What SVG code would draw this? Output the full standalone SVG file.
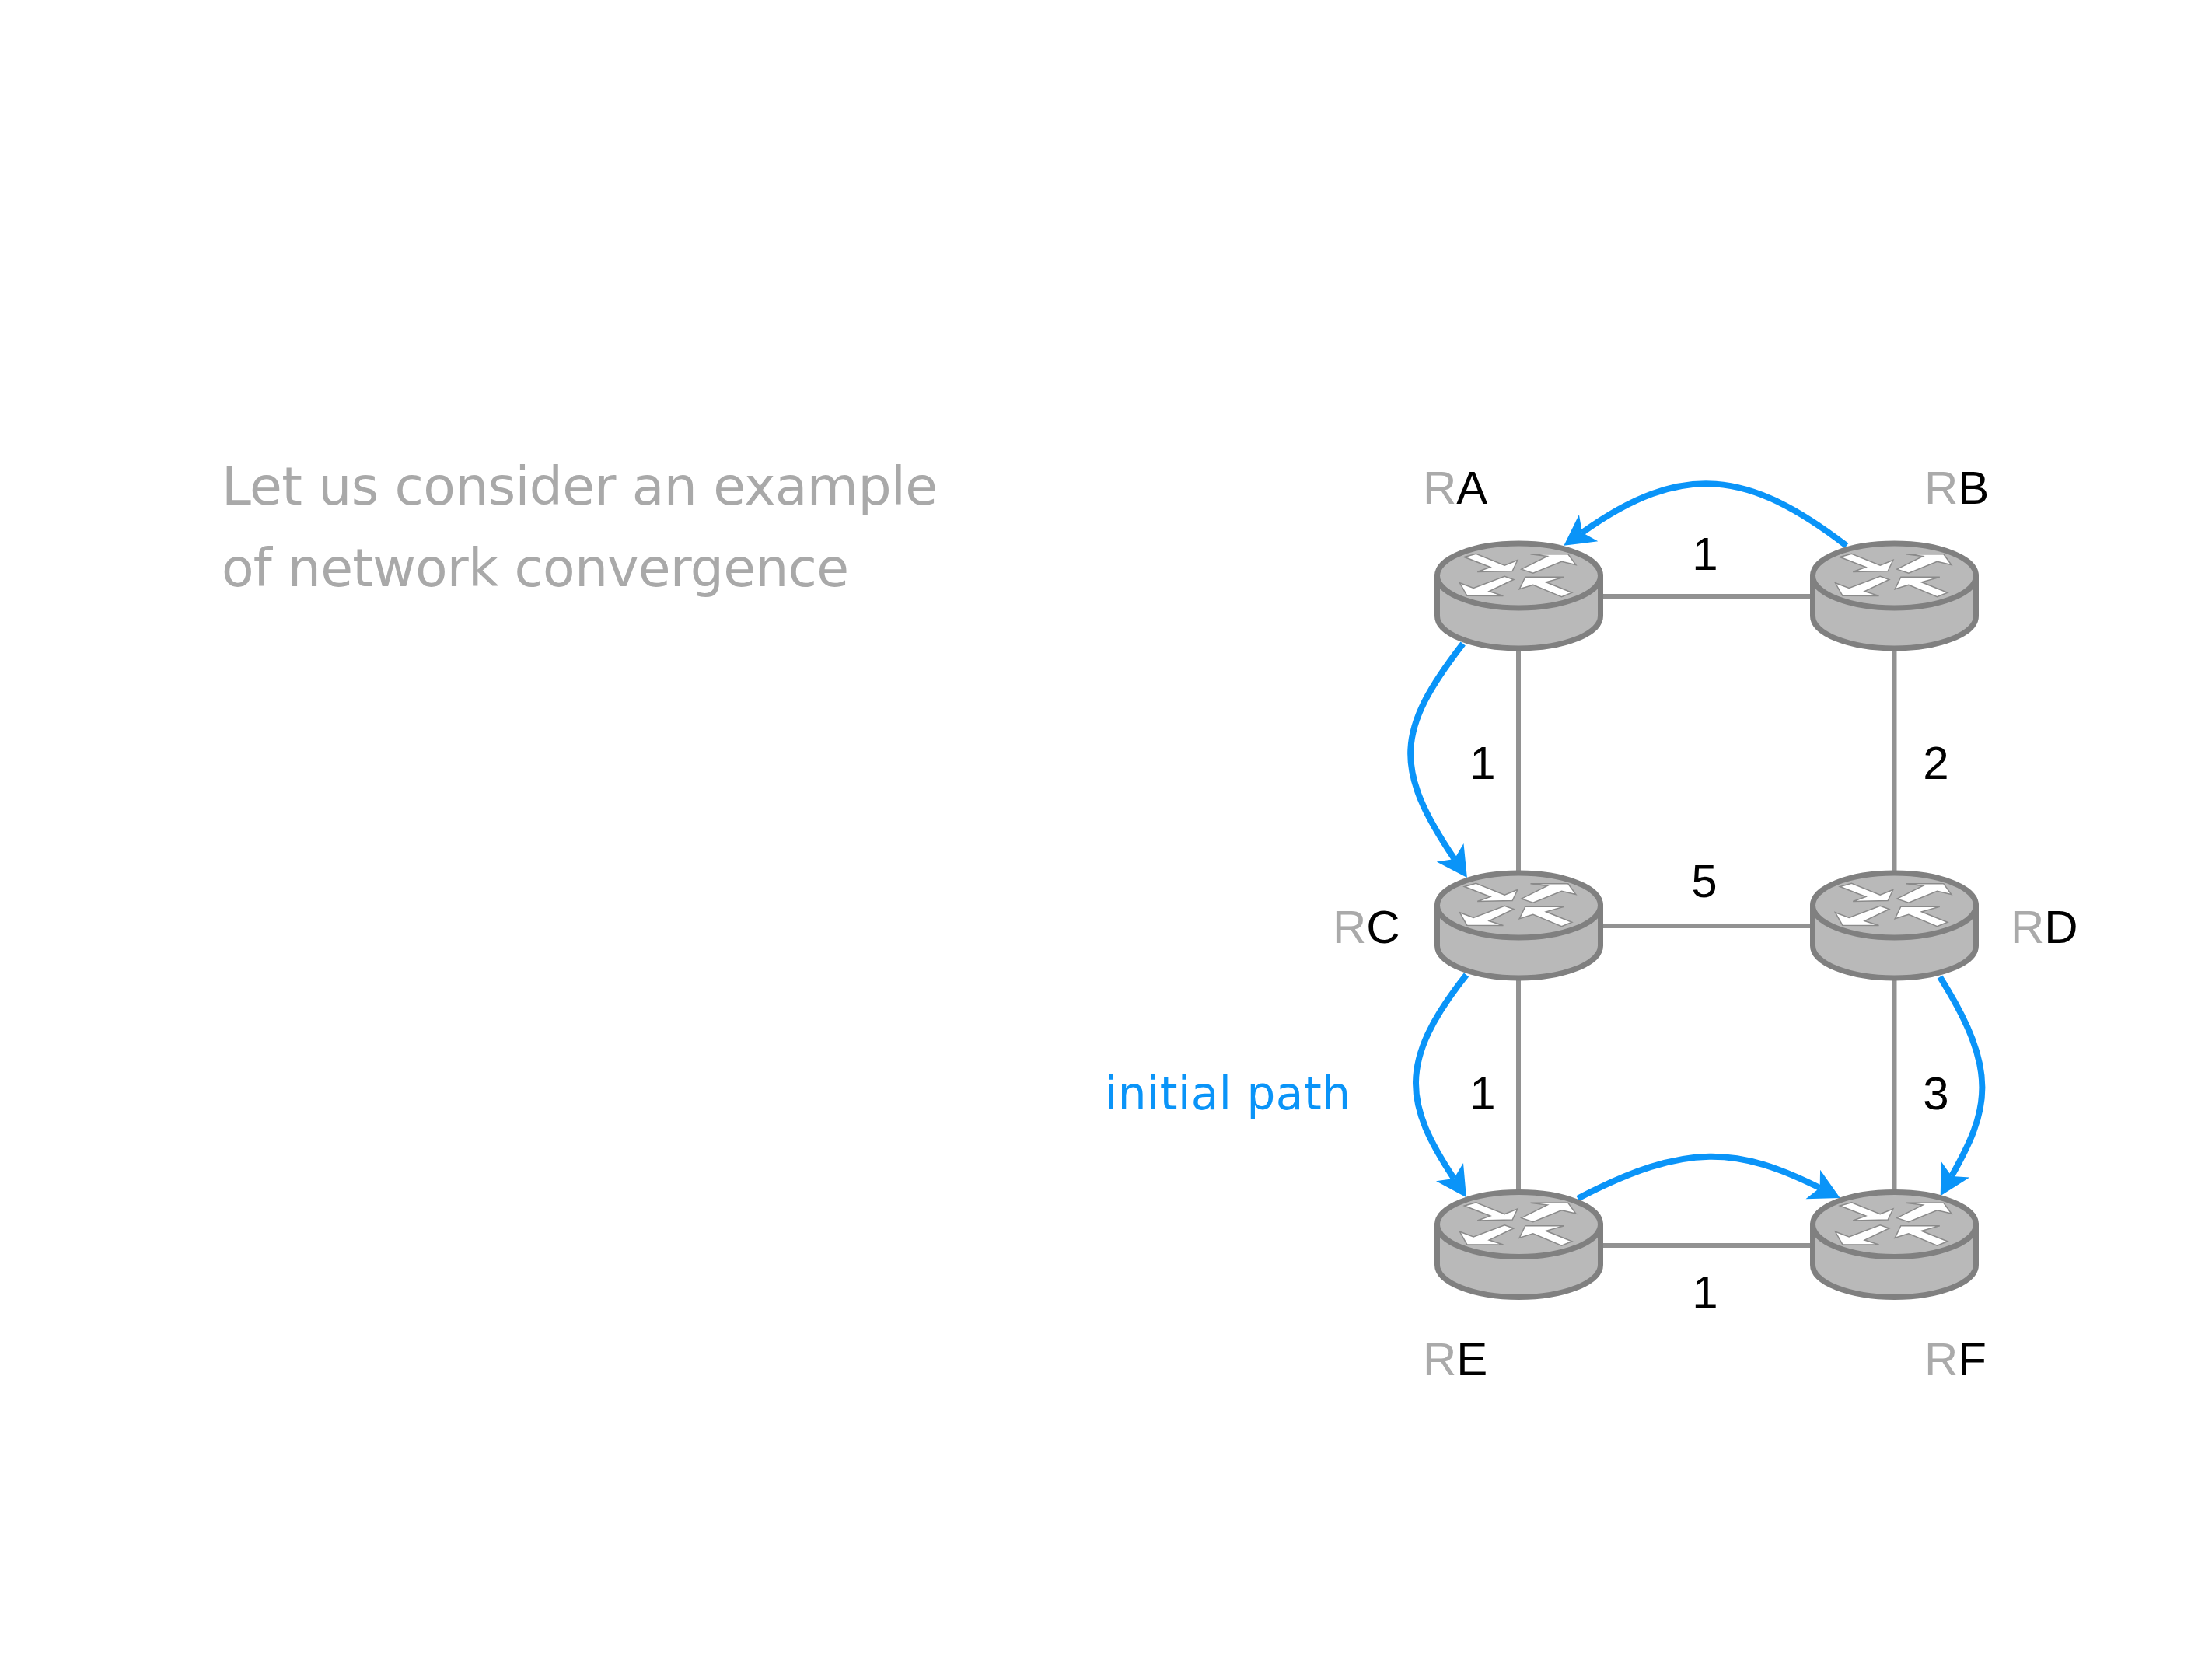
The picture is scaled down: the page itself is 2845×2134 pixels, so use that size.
<svg xmlns="http://www.w3.org/2000/svg" width="2845" height="2134" viewBox="0 0 2845 2134">
  <style>
    .heading { font-family: "DejaVu Sans", sans-serif; font-size: 68px; fill: #a9a9a9; }
    .path-label { font-family: "DejaVu Sans", sans-serif; font-size: 58px; fill: #0a94f8; }
    .name { font-family: "Liberation Sans", Arial, sans-serif; font-size: 60px; fill: #000; }
    .name .prefix { fill: #aaaaaa; }
    .cost { font-family: "Liberation Sans", Arial, sans-serif; font-size: 60px; fill: #000; text-anchor: middle; }
    .link { stroke: #929292; stroke-width: 6; fill: none; }
    .route { stroke: #0a94f8; stroke-width: 8; fill: none; marker-end: url(#head); }
    .body { fill: #b9b9b9; stroke: #808080; stroke-width: 7; stroke-linejoin: round; }
    .glyph { fill: #fff; stroke: #8a8a8a; stroke-width: 1.5; stroke-linejoin: miter; }
  </style>
  <defs>
    <marker id="head" markerUnits="userSpaceOnUse" markerWidth="40" markerHeight="44" refX="10" refY="22" orient="auto">
      <path d="M0,1 L39,22 L0,43 L10,22 Z" fill="#0a94f8"/>
    </marker>
    <!-- Router drawn around the centre of its top face -->
    <g id="router">
      <path class="body" d="M-105,0 V52 A105,41.5 0 0 0 105,52 V0 Z"/>
      <ellipse class="body" cx="0" cy="0" rx="105" ry="41.5"/>
      <polygon class="glyph" points="-70,-24 -55,-28.3 -18.3,-13.3 -1.7,-20 -8.3,-6 -53.3,-5 -36.7,-11"/>
      <polygon class="glyph" points="3.3,-8.3 36.7,-25 15,-27.7 63.3,-27.7 73.3,-14 55,-18.3 18.3,-3.3"/>
      <polygon class="glyph" points="-6.7,5 -18.3,0.7 -58.3,16 -76,9.3 -66.7,25.7 -20,26 -38.3,20"/>
      <polygon class="glyph" points="68.3,21.7 55,27.3 18.3,11.7 0.7,17.3 8.3,1.7 58.3,1.7 35,8.3"/>
    </g>
  </defs>
  <rect width="2845" height="2134" fill="#ffffff"/>

  <text class="heading" x="285" y="649" textLength="921" lengthAdjust="spacing">Let us consider an example</text>
  <text class="heading" x="285" y="754" textLength="807" lengthAdjust="spacing">of network convergence</text>
  <text class="path-label" x="1421" y="1427" textLength="316" lengthAdjust="spacing">initial path</text>

  <g id="connectors">
    <line class="link" x1="1953" y1="767" x2="2436" y2="767"/>
    <line class="link" x1="1953" y1="1191" x2="2436" y2="1191"/>
    <line class="link" x1="1953" y1="1602" x2="2436" y2="1602"/>
    <line class="link" x1="1953" y1="740" x2="1953" y2="1575"/>
    <line class="link" x1="2436.5" y1="740" x2="2436.5" y2="1575"/>
    <path class="route" d="M2375,702 C2250,606 2165,592 2035,685"/>
    <path class="route" d="M1881.7,828 C1795.7,939 1791.7,988 1870.7,1105"/>
    <path class="route" d="M1886,1254 C1796,1367 1808,1422 1870,1516"/>
    <path class="route" d="M2495,1256.7 C2572,1378.5 2558,1428 2510,1513"/>
    <path class="route" d="M2029.3,1541.7 C2170,1468 2236,1476 2340.7,1528"/>
  </g>

  <g id="node-ra"><use href="#router" x="1953.5" y="740.5"/><text class="name" x="1830" y="648"><tspan class="prefix">R</tspan>A</text></g>
  <g id="node-rb"><use href="#router" x="2436.5" y="740.5"/><text class="name" x="2475" y="648"><tspan class="prefix">R</tspan>B</text></g>
  <g id="node-rc"><use href="#router" x="1953.5" y="1164.5"/><text class="name" x="1714" y="1213"><tspan class="prefix">R</tspan>C</text></g>
  <g id="node-rd"><use href="#router" x="2436.5" y="1164.5"/><text class="name" x="2586" y="1213"><tspan class="prefix">R</tspan>D</text></g>
  <g id="node-re"><use href="#router" x="1953.5" y="1575"/><text class="name" x="1830" y="1769"><tspan class="prefix">R</tspan>E</text></g>
  <g id="node-rf"><use href="#router" x="2436.5" y="1575"/><text class="name" x="2475" y="1769"><tspan class="prefix">R</tspan>F</text></g>

  <g id="costs">
    <text class="cost" x="2193" y="733">1</text>
    <text class="cost" x="1907" y="1002">1</text>
    <text class="cost" x="2490" y="1002">2</text>
    <text class="cost" x="2192" y="1154">5</text>
    <text class="cost" x="1907" y="1427">1</text>
    <text class="cost" x="2490" y="1427">3</text>
    <text class="cost" x="2193" y="1683">1</text>
  </g>
</svg>
